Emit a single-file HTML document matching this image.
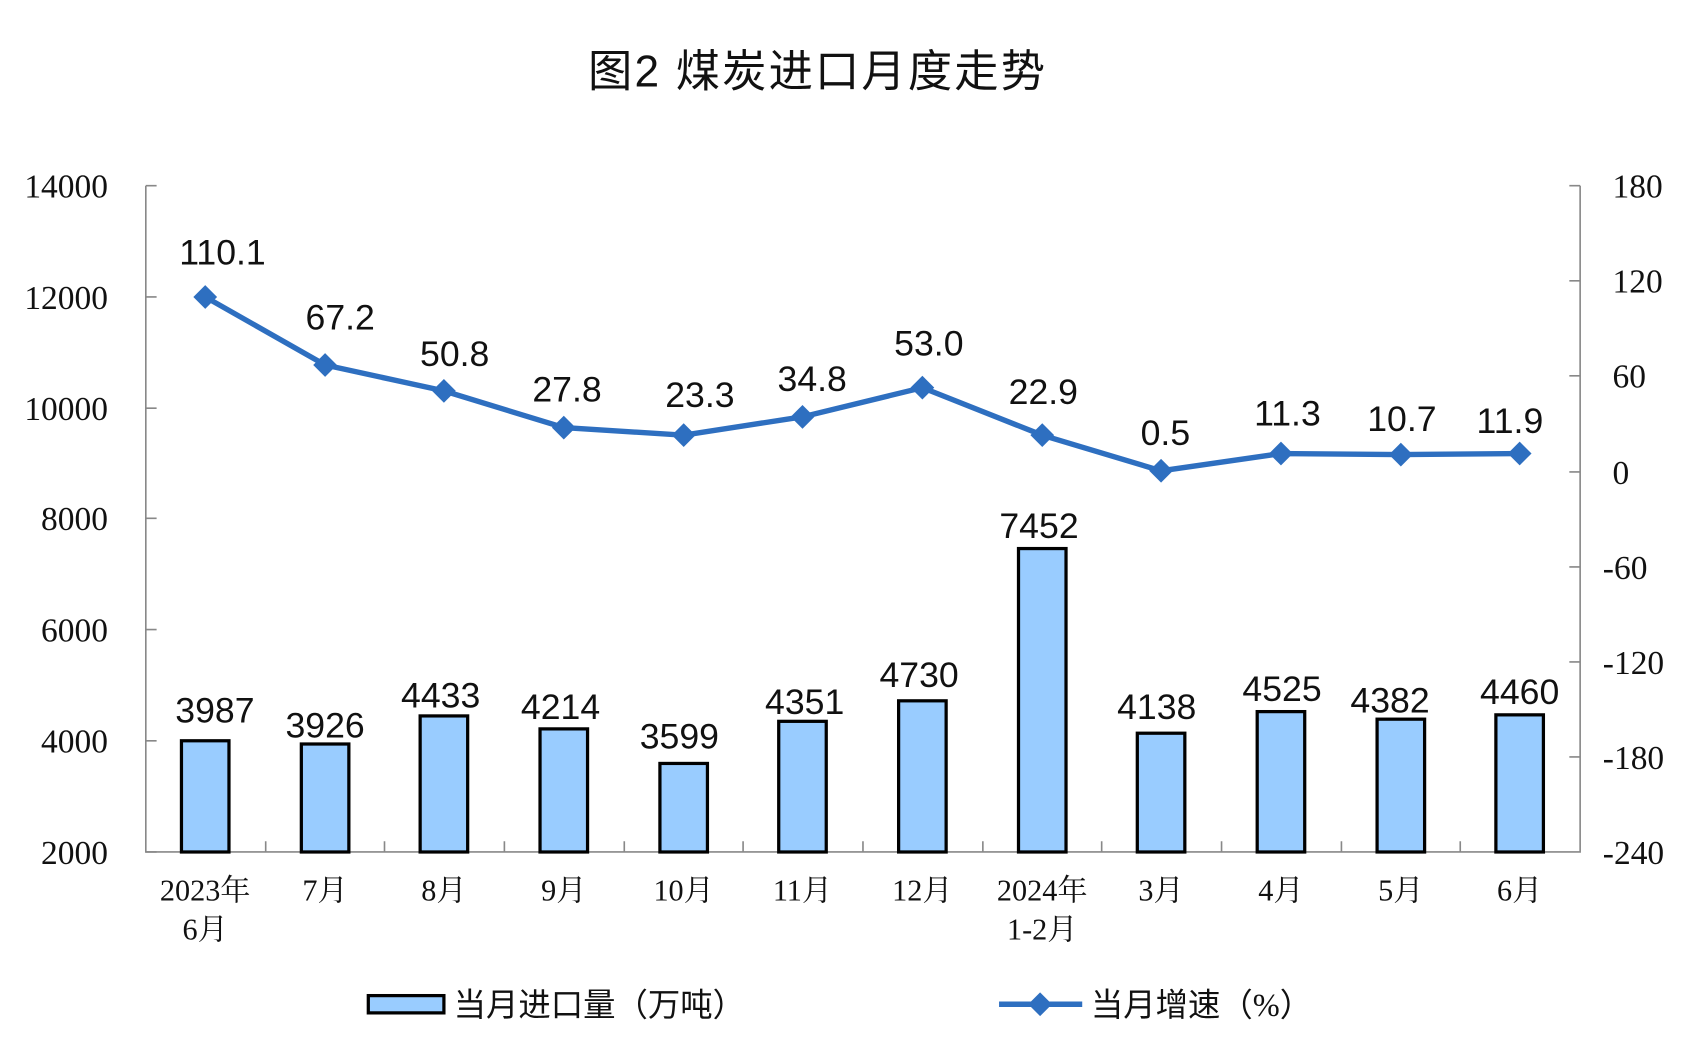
<!DOCTYPE html>
<html><head><meta charset="utf-8"><style>body{margin:0;background:#fff}svg{display:block}</style></head><body>
<svg width="1693" height="1055" viewBox="0 0 1567.5 977" preserveAspectRatio="none" xmlns="http://www.w3.org/2000/svg">
<rect width="1567.5" height="977" fill="#fff"/>
<text x="757" y="80" font-size="41" letter-spacing="2" text-anchor="middle" font-family="'Liberation Sans','Noto Sans CJK SC',sans-serif" fill="#111">图2  煤炭进口月度走势</text>
<g stroke="#888" stroke-width="1.5" fill="none">
<path d="M135 172V789H1463V172"/>
<path d="M135 172h10M135 275h10M135 378h10M135 480h10M135 583h10M135 686h10M135 789h10"/>
<path d="M1463 172h-10M1463 260h-10M1463 348h-10M1463 437h-10M1463 525h-10M1463 613h-10M1463 701h-10"/>
<path d="M246 789v-10M356 789v-10M467 789v-10M578 789v-10M688 789v-10M799 789v-10M910 789v-10M1020 789v-10M1131 789v-10M1242 789v-10M1352 789v-10"/>
</g>
<g font-family="'Liberation Serif',serif" font-size="31" fill="#111" text-anchor="end">
<text x="100" y="183">14000</text><text x="100" y="286">12000</text><text x="100" y="389">10000</text><text x="100" y="491">8000</text><text x="100" y="594">6000</text><text x="100" y="697">4000</text><text x="100" y="800">2000</text>
</g>
<g font-family="'Liberation Serif',serif" font-size="31" fill="#111" text-anchor="start">
<text x="1493" y="183">180</text><text x="1493" y="271">120</text><text x="1493" y="359">60</text><text x="1493" y="448">0</text><text x="1484" y="536">-60</text><text x="1484" y="624">-120</text><text x="1484" y="712">-180</text><text x="1484" y="800">-240</text>
</g>
<g fill="#99ccff" stroke="#000" stroke-width="3">
<rect x="168" y="686" width="44" height="103"/>
<rect x="279" y="689" width="44" height="100"/>
<rect x="389" y="663" width="44" height="126"/>
<rect x="500" y="675" width="44" height="114"/>
<rect x="611" y="707" width="44" height="82"/>
<rect x="721" y="668" width="44" height="121"/>
<rect x="832" y="649" width="44" height="140"/>
<rect x="943" y="508" width="44" height="281"/>
<rect x="1053" y="679" width="44" height="110"/>
<rect x="1164" y="659" width="44" height="130"/>
<rect x="1275" y="666" width="44" height="123"/>
<rect x="1385" y="662" width="44" height="127"/>
</g>
<g font-family="'Liberation Sans',sans-serif" font-size="33" fill="#111" text-anchor="middle">
<text x="199" y="669">3987</text><text x="301" y="683">3926</text><text x="408" y="655">4433</text><text x="519" y="666">4214</text><text x="629" y="693">3599</text><text x="745" y="661">4351</text><text x="851" y="636">4730</text><text x="962" y="498">7452</text><text x="1071" y="666">4138</text><text x="1187" y="649">4525</text><text x="1287" y="660">4382</text><text x="1407" y="652">4460</text>
<text x="206" y="245">110.1</text><text x="315" y="305">67.2</text><text x="421" y="339">50.8</text><text x="525" y="372">27.8</text><text x="648" y="377">23.3</text><text x="752" y="362">34.8</text><text x="860" y="329">53.0</text><text x="966" y="374">22.9</text><text x="1079" y="412">0.5</text><text x="1192" y="394">11.3</text><text x="1298" y="399">10.7</text><text x="1398" y="401">11.9</text>
</g>
<polyline fill="none" stroke="#2e6fc0" stroke-width="5" points="190,275 301,338 411,362 522,396 633,403 743,386 854,359 965,403 1075,436 1186,420 1297,421 1407,420"/>
<g fill="#2e6fc0">
<path d="M190 264l11 11-11 11-11-11z"/><path d="M301 327l11 11-11 11-11-11z"/><path d="M411 351l11 11-11 11-11-11z"/><path d="M522 385l11 11-11 11-11-11z"/><path d="M633 392l11 11-11 11-11-11z"/><path d="M743 375l11 11-11 11-11-11z"/><path d="M854 348l11 11-11 11-11-11z"/><path d="M965 392l11 11-11 11-11-11z"/><path d="M1075 425l11 11-11 11-11-11z"/><path d="M1186 409l11 11-11 11-11-11z"/><path d="M1297 410l11 11-11 11-11-11z"/><path d="M1407 409l11 11-11 11-11-11z"/>
</g>
<g font-family="'Liberation Serif','Noto Serif CJK SC',serif" font-size="28" fill="#111" text-anchor="middle">
<text x="190" y="834">2023年</text><text x="190" y="870">6月</text>
<text x="301" y="834">7月</text><text x="411" y="834">8月</text><text x="522" y="834">9月</text><text x="633" y="834">10月</text><text x="743" y="834">11月</text><text x="854" y="834">12月</text>
<text x="965" y="834">2024年</text><text x="965" y="870">1-2月</text>
<text x="1075" y="834">3月</text><text x="1186" y="834">4月</text><text x="1297" y="834">5月</text><text x="1407" y="834">6月</text>
</g>
<rect x="341" y="922" width="70" height="16" fill="#99ccff" stroke="#000" stroke-width="3"/>
<path d="M925 930h77" stroke="#2e6fc0" stroke-width="5"/>
<path d="M963 919l11 11-11 11-11-11z" fill="#2e6fc0"/>
<g font-family="'Liberation Serif','Noto Sans CJK SC',sans-serif" font-size="30" fill="#111">
<text x="420" y="941">当月进口量（万吨）</text>
<text x="1010" y="941">当月增速（%）</text>
</g>
</svg>
</body></html>
